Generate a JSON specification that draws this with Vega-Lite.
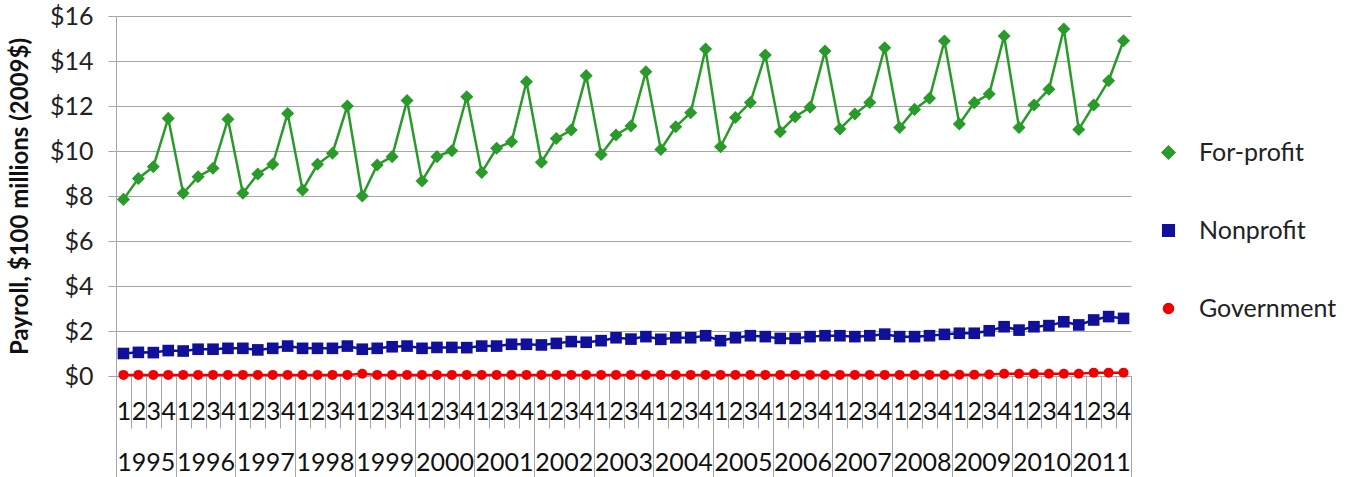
{
  "$schema": "https://vega.github.io/schema/vega-lite/v6.json",
  "autosize": {"type": "none"},
  "padding": {"left": 116, "top": 16, "right": 221, "bottom": 101},
  "width": 1015,
  "height": 360,
  "background": "white",
  "config": {
    "view": {"stroke": null},
    "font": "Lato",
    "legend": {
      "orient": "none", "legendX": 1040, "legendY": 124, "title": null,
      "labelFontSize": 25, "labelFont": "Lato", "labelColor": "#222222",
      "labelOffset": 18, "rowPadding": 52, "symbolSize": 156
    }
  },
  "data": {
    "values": [
      {"t":"1995-1","year":"1995","For-profit":7.85,"Nonprofit":1.0,"Government":0.05},
      {"t":"1995-2","year":"1995","For-profit":8.78,"Nonprofit":1.05,"Government":0.05},
      {"t":"1995-3","year":"1995","For-profit":9.3,"Nonprofit":1.04,"Government":0.05},
      {"t":"1995-4","year":"1995","For-profit":11.45,"Nonprofit":1.13,"Government":0.05},
      {"t":"1996-1","year":"1996","For-profit":8.12,"Nonprofit":1.11,"Government":0.05},
      {"t":"1996-2","year":"1996","For-profit":8.86,"Nonprofit":1.19,"Government":0.05},
      {"t":"1996-3","year":"1996","For-profit":9.23,"Nonprofit":1.19,"Government":0.05},
      {"t":"1996-4","year":"1996","For-profit":11.41,"Nonprofit":1.23,"Government":0.05},
      {"t":"1997-1","year":"1997","For-profit":8.12,"Nonprofit":1.23,"Government":0.05},
      {"t":"1997-2","year":"1997","For-profit":8.98,"Nonprofit":1.16,"Government":0.05},
      {"t":"1997-3","year":"1997","For-profit":9.41,"Nonprofit":1.23,"Government":0.05},
      {"t":"1997-4","year":"1997","For-profit":11.67,"Nonprofit":1.33,"Government":0.05},
      {"t":"1998-1","year":"1998","For-profit":8.27,"Nonprofit":1.23,"Government":0.05},
      {"t":"1998-2","year":"1998","For-profit":9.41,"Nonprofit":1.23,"Government":0.05},
      {"t":"1998-3","year":"1998","For-profit":9.9,"Nonprofit":1.23,"Government":0.05},
      {"t":"1998-4","year":"1998","For-profit":12.0,"Nonprofit":1.33,"Government":0.05},
      {"t":"1999-1","year":"1999","For-profit":8.0,"Nonprofit":1.19,"Government":0.1},
      {"t":"1999-2","year":"1999","For-profit":9.38,"Nonprofit":1.23,"Government":0.05},
      {"t":"1999-3","year":"1999","For-profit":9.75,"Nonprofit":1.3,"Government":0.05},
      {"t":"1999-4","year":"1999","For-profit":12.24,"Nonprofit":1.33,"Government":0.05},
      {"t":"2000-1","year":"2000","For-profit":8.67,"Nonprofit":1.23,"Government":0.05},
      {"t":"2000-2","year":"2000","For-profit":9.75,"Nonprofit":1.27,"Government":0.05},
      {"t":"2000-3","year":"2000","For-profit":10.01,"Nonprofit":1.27,"Government":0.05},
      {"t":"2000-4","year":"2000","For-profit":12.41,"Nonprofit":1.26,"Government":0.05},
      {"t":"2001-1","year":"2001","For-profit":9.05,"Nonprofit":1.33,"Government":0.05},
      {"t":"2001-2","year":"2001","For-profit":10.12,"Nonprofit":1.33,"Government":0.05},
      {"t":"2001-3","year":"2001","For-profit":10.41,"Nonprofit":1.41,"Government":0.05},
      {"t":"2001-4","year":"2001","For-profit":13.08,"Nonprofit":1.41,"Government":0.05},
      {"t":"2002-1","year":"2002","For-profit":9.5,"Nonprofit":1.38,"Government":0.05},
      {"t":"2002-2","year":"2002","For-profit":10.56,"Nonprofit":1.45,"Government":0.05},
      {"t":"2002-3","year":"2002","For-profit":10.93,"Nonprofit":1.53,"Government":0.05},
      {"t":"2002-4","year":"2002","For-profit":13.35,"Nonprofit":1.5,"Government":0.05},
      {"t":"2003-1","year":"2003","For-profit":9.85,"Nonprofit":1.57,"Government":0.05},
      {"t":"2003-2","year":"2003","For-profit":10.71,"Nonprofit":1.7,"Government":0.05},
      {"t":"2003-3","year":"2003","For-profit":11.11,"Nonprofit":1.64,"Government":0.05},
      {"t":"2003-4","year":"2003","For-profit":13.52,"Nonprofit":1.75,"Government":0.05},
      {"t":"2004-1","year":"2004","For-profit":10.07,"Nonprofit":1.63,"Government":0.05},
      {"t":"2004-2","year":"2004","For-profit":11.08,"Nonprofit":1.7,"Government":0.05},
      {"t":"2004-3","year":"2004","For-profit":11.7,"Nonprofit":1.7,"Government":0.05},
      {"t":"2004-4","year":"2004","For-profit":14.53,"Nonprofit":1.79,"Government":0.05},
      {"t":"2005-1","year":"2005","For-profit":10.19,"Nonprofit":1.57,"Government":0.05},
      {"t":"2005-2","year":"2005","For-profit":11.49,"Nonprofit":1.7,"Government":0.05},
      {"t":"2005-3","year":"2005","For-profit":12.16,"Nonprofit":1.79,"Government":0.05},
      {"t":"2005-4","year":"2005","For-profit":14.27,"Nonprofit":1.75,"Government":0.05},
      {"t":"2006-1","year":"2006","For-profit":10.86,"Nonprofit":1.67,"Government":0.05},
      {"t":"2006-2","year":"2006","For-profit":11.52,"Nonprofit":1.67,"Government":0.05},
      {"t":"2006-3","year":"2006","For-profit":11.94,"Nonprofit":1.75,"Government":0.05},
      {"t":"2006-4","year":"2006","For-profit":14.44,"Nonprofit":1.79,"Government":0.05},
      {"t":"2007-1","year":"2007","For-profit":10.98,"Nonprofit":1.79,"Government":0.05},
      {"t":"2007-2","year":"2007","For-profit":11.64,"Nonprofit":1.75,"Government":0.05},
      {"t":"2007-3","year":"2007","For-profit":12.16,"Nonprofit":1.79,"Government":0.05},
      {"t":"2007-4","year":"2007","For-profit":14.59,"Nonprofit":1.86,"Government":0.05},
      {"t":"2008-1","year":"2008","For-profit":11.04,"Nonprofit":1.75,"Government":0.05},
      {"t":"2008-2","year":"2008","For-profit":11.85,"Nonprofit":1.75,"Government":0.05},
      {"t":"2008-3","year":"2008","For-profit":12.34,"Nonprofit":1.79,"Government":0.05},
      {"t":"2008-4","year":"2008","For-profit":14.89,"Nonprofit":1.85,"Government":0.05},
      {"t":"2009-1","year":"2009","For-profit":11.2,"Nonprofit":1.9,"Government":0.06},
      {"t":"2009-2","year":"2009","For-profit":12.15,"Nonprofit":1.9,"Government":0.06},
      {"t":"2009-3","year":"2009","For-profit":12.53,"Nonprofit":2.01,"Government":0.07},
      {"t":"2009-4","year":"2009","For-profit":15.11,"Nonprofit":2.19,"Government":0.1},
      {"t":"2010-1","year":"2010","For-profit":11.04,"Nonprofit":2.04,"Government":0.1},
      {"t":"2010-2","year":"2010","For-profit":12.04,"Nonprofit":2.19,"Government":0.1},
      {"t":"2010-3","year":"2010","For-profit":12.74,"Nonprofit":2.24,"Government":0.1},
      {"t":"2010-4","year":"2010","For-profit":15.42,"Nonprofit":2.41,"Government":0.1},
      {"t":"2011-1","year":"2011","For-profit":10.96,"Nonprofit":2.27,"Government":0.1},
      {"t":"2011-2","year":"2011","For-profit":12.04,"Nonprofit":2.49,"Government":0.15},
      {"t":"2011-3","year":"2011","For-profit":13.12,"Nonprofit":2.64,"Government":0.15},
      {"t":"2011-4","year":"2011","For-profit":14.9,"Nonprofit":2.56,"Government":0.15}
    ]
  },
  "transform": [
    {"fold": ["For-profit", "Nonprofit", "Government"], "as": ["series", "value"]}
  ],
  "resolve": {"scale": {"x": "independent"}, "axis": {"x": "independent"}},
  "layer": [
    {
      "layer": [
        {
          "mark": {"type": "line", "strokeWidth": 2.5},
          "encoding": {
            "x": {
              "field": "t", "type": "ordinal",
              "scale": {"type": "band", "paddingInner": 0, "paddingOuter": 0},
              "axis": {
                "orient": "bottom", "title": null, "tickBand": "extent", "tickSize": 52,
                "tickColor": "#a6a6a6", "domainColor": "#a6a6a6", "labelAngle": 0,
                "labelExpr": "substring(datum.label, 5)", "labelFontSize": 25,
                "labelPadding": -29, "labelColor": "#111111", "labelOverlap": false,
                "labelFont": "Lato", "grid": false
              }
            },
            "y": {
              "field": "value", "type": "quantitative",
              "scale": {"domain": [0, 16], "nice": false},
              "axis": {
                "title": "Payroll, $100 millions (2009$)", "titleFontSize": 24,
                "titleFontWeight": "bold", "titleColor": "#111111", "titleFont": "Lato",
                "titlePadding": 17,
                "values": [0, 2, 4, 6, 8, 10, 12, 14, 16],
                "labelExpr": "'$' + datum.value", "labelFontSize": 25, "labelColor": "#222222",
                "labelFont": "Lato", "labelPadding": 15, "tickSize": 8, "tickColor": "#a6a6a6",
                "domainColor": "#a6a6a6", "gridColor": "#a6a6a6", "grid": true
              }
            },
            "color": {
              "field": "series", "type": "nominal",
              "scale": {"domain": ["For-profit", "Nonprofit", "Government"], "range": ["#2A9A2A", "#10109A", "#F00000"]},
              "legend": {}
            },
            "detail": {"field": "series"}
          }
        },
        {
          "mark": {"type": "point", "filled": true, "opacity": 1},
          "encoding": {
            "x": {"field": "t", "type": "ordinal"},
            "y": {"field": "value", "type": "quantitative"},
            "shape": {
              "field": "series", "type": "nominal",
              "scale": {"domain": ["For-profit", "Nonprofit", "Government"], "range": ["diamond", "square", "circle"]},
              "legend": null
            },
            "fill": {
              "field": "series", "type": "nominal",
              "scale": {"domain": ["For-profit", "Nonprofit", "Government"], "range": ["#2A9A2A", "#10109A", "#F00000"]},
              "legend": null
            },
            "size": {
              "field": "series", "type": "nominal",
              "scale": {"domain": ["For-profit", "Nonprofit", "Government"], "range": [170, 100, 100]},
              "legend": null
            }
          }
        }
      ]
    },
    {
      "mark": {"type": "point", "opacity": 0},
      "encoding": {
        "x": {
          "field": "year", "type": "ordinal",
          "scale": {"type": "band", "paddingInner": 0, "paddingOuter": 0},
          "axis": {
            "orient": "bottom", "title": null, "tickBand": "extent", "tickSize": 101,
            "tickColor": "#a6a6a6", "domainColor": "#a6a6a6", "labelAngle": 0,
            "labelFontSize": 25, "labelPadding": -27, "labelColor": "#111111",
            "labelOverlap": false, "labelFont": "Lato", "grid": false
          }
        }
      }
    }
  ]
}
